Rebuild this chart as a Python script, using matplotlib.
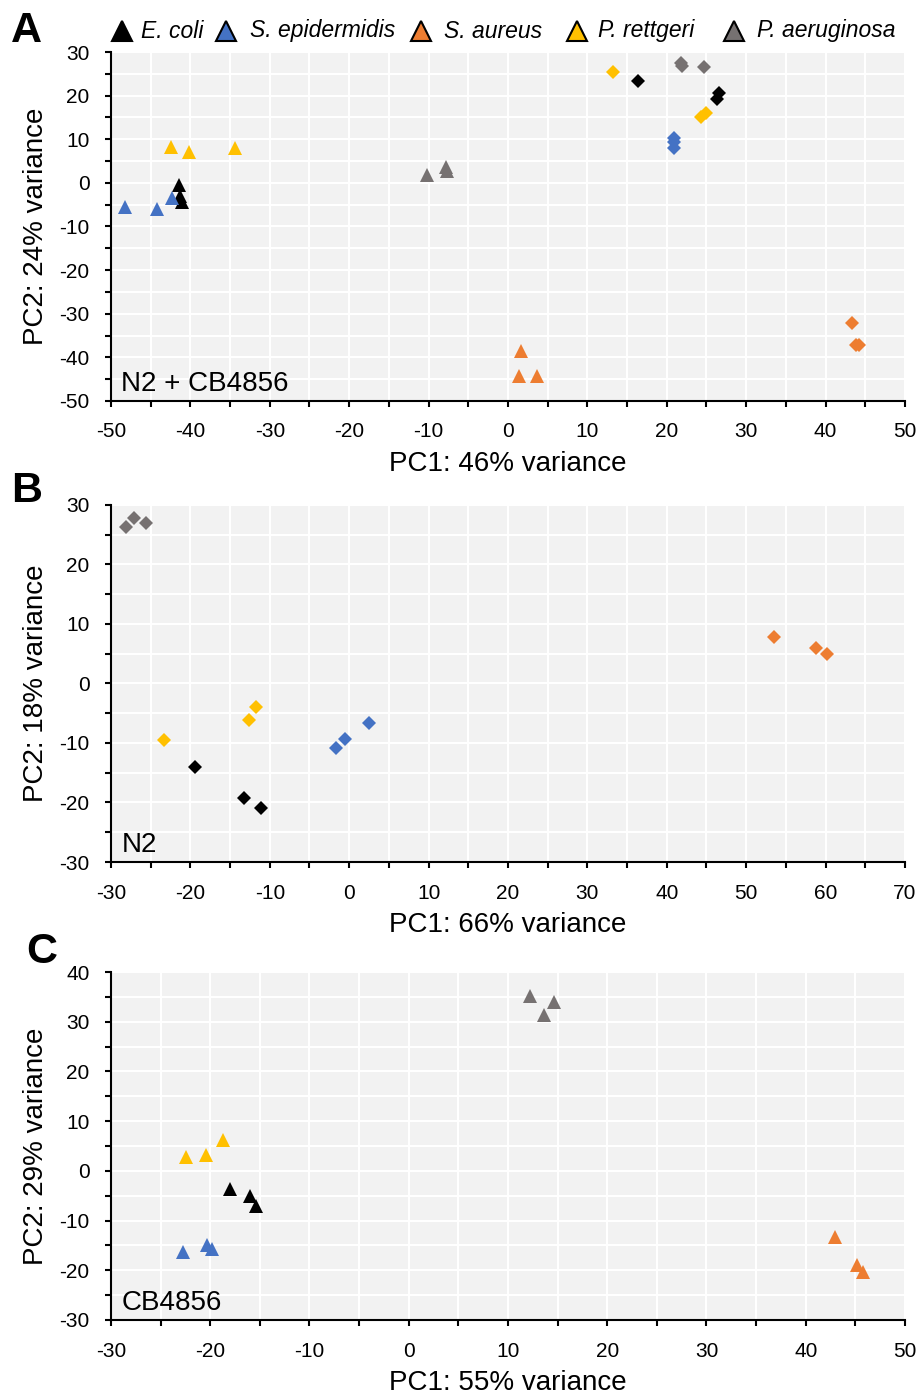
import matplotlib
matplotlib.use("Agg")
import matplotlib.pyplot as plt
from matplotlib.lines import Line2D
from matplotlib.ticker import MultipleLocator

plt.rcParams['font.family'] = ['Liberation Sans', 'DejaVu Sans']

species = ["E. coli", "S. epidermidis", "S. aureus", "P. rettgeri", "P. aeruginosa"]
colors = ["#000000", "#4472C4", "#ED7D31", "#FFC000", "#767171"]

# Panel A: N2 + CB4856 (triangles = CB4856, diamonds = N2)
a_tri_x = {
    "E. coli": [-41.4, -41.3, -41.1],
    "S. epidermidis": [-48.2, -44.2, -42.3],
    "S. aureus": [1.6, 1.4, 3.6],
    "P. rettgeri": [-42.5, -40.2, -34.4],
    "P. aeruginosa": [-10.2, -7.8, -7.7],
}
a_tri_y = {
    "E. coli": [-0.6, -3.1, -4.5],
    "S. epidermidis": [-5.5, -6.1, -3.4],
    "S. aureus": [-38.6, -44.3, -44.3],
    "P. rettgeri": [8.3, 7.1, 8.0],
    "P. aeruginosa": [1.9, 3.7, 2.8],
}
a_dia_x = {
    "E. coli": [16.4, 26.6, 26.3],
    "S. epidermidis": [20.9, 20.9, 20.9],
    "S. aureus": [43.3, 43.8, 44.2],
    "P. rettgeri": [13.2, 24.3, 25.0],
    "P. aeruginosa": [21.8, 21.9, 24.7],
}
a_dia_y = {
    "E. coli": [23.4, 20.6, 19.3],
    "S. epidermidis": [10.3, 9.4, 8.1],
    "S. aureus": [-32.2, -37.2, -37.2],
    "P. rettgeri": [25.4, 15.1, 16.1],
    "P. aeruginosa": [27.5, 26.8, 26.5],
}

# Panel B: N2 (diamonds)
b_x = {
    "E. coli": [-19.4, -13.3, -11.1],
    "S. epidermidis": [-1.7, -0.5, 2.5],
    "S. aureus": [53.5, 58.8, 60.2],
    "P. rettgeri": [-23.3, -12.6, -11.7],
    "P. aeruginosa": [-28.1, -27.1, -25.6],
}
b_y = {
    "E. coli": [-14.0, -19.2, -20.9],
    "S. epidermidis": [-10.9, -9.4, -6.6],
    "S. aureus": [7.8, 6.0, 5.0],
    "P. rettgeri": [-9.5, -6.1, -3.9],
    "P. aeruginosa": [26.3, 27.8, 27.0],
}

# Panel C: CB4856 (triangles)
c_x = {
    "E. coli": [-18.0, -16.0, -15.4],
    "S. epidermidis": [-22.7, -20.3, -19.8],
    "S. aureus": [42.9, 45.2, 45.8],
    "P. rettgeri": [-22.4, -20.4, -18.7],
    "P. aeruginosa": [12.2, 13.6, 14.6],
}
c_y = {
    "E. coli": [-3.7, -5.1, -7.1],
    "S. epidermidis": [-16.3, -14.9, -15.7],
    "S. aureus": [-13.3, -19.0, -20.3],
    "P. rettgeri": [2.8, 3.2, 6.2],
    "P. aeruginosa": [35.2, 31.3, 34.0],
}

panels = [
    dict(letter="A", name="N2 + CB4856", xlabel="PC1: 46% variance", ylabel="PC2: 24% variance",
         xlim=(-50, 50), ylim=(-50, 30), rect=[0.1205, 0.7132, 0.8621, 0.2496],
         sets=[(a_tri_x, a_tri_y, "^"), (a_dia_x, a_dia_y, "D")]),
    dict(letter="B", name="N2", xlabel="PC1: 66% variance", ylabel="PC2: 18% variance",
         xlim=(-30, 70), ylim=(-30, 30), rect=[0.1205, 0.3834, 0.8621, 0.2554],
         sets=[(b_x, b_y, "D")]),
    dict(letter="C", name="CB4856", xlabel="PC1: 55% variance", ylabel="PC2: 29% variance",
         xlim=(-30, 50), ylim=(-30, 40), rect=[0.1205, 0.0558, 0.8621, 0.2489],
         sets=[(c_x, c_y, "^")]),
]

W, H = 921, 1398
fig = plt.figure(figsize=(W / 100, H / 100), dpi=100)

letter_pos = [(0.012, 0.978), (0.012, 0.649), (0.028, 0.319)]

for p, lp in zip(panels, letter_pos):
    ax = fig.add_axes(p["rect"])
    ax.set_facecolor("#f2f2f2")
    ax.set_xlim(*p["xlim"])
    ax.set_ylim(*p["ylim"])
    ax.xaxis.set_major_locator(MultipleLocator(10))
    ax.xaxis.set_minor_locator(MultipleLocator(5))
    ax.yaxis.set_major_locator(MultipleLocator(10))
    ax.yaxis.set_minor_locator(MultipleLocator(5))
    ax.grid(True, which="both", color="white", linewidth=1.5)
    ax.set_axisbelow(True)
    for s in ["top", "right"]:
        ax.spines[s].set_visible(False)
    for s in ["left", "bottom"]:
        ax.spines[s].set_linewidth(1.5)
        ax.spines[s].set_color("black")
    ax.tick_params(which="both", direction="out", length=4.5, width=1.5, colors="black",
                   labelsize=15, pad=11)
    ax.set_xticklabels([f"{int(v)}" for v in ax.get_xticks()])
    ax.set_yticklabels([f"{int(v)}" for v in ax.get_yticks()])
    ax.set_xlabel(p["xlabel"], fontsize=20, labelpad=7)
    ax.set_ylabel(p["ylabel"], fontsize=20, labelpad=7)
    for xs, ys, mk in p["sets"]:
        for sp, col in zip(species, colors):
            ms = 9.5 if mk == "^" else 6.8
            ax.plot(xs[sp], ys[sp], linestyle="none", marker=mk, color=col,
                    markersize=ms, markeredgewidth=0, clip_on=False, zorder=3)
    ax.text(0.013, 0.012, p["name"], transform=ax.transAxes, fontsize=20,
            ha="left", va="bottom", zorder=5)
    fig.text(lp[0], lp[1], p["letter"], fontsize=31, fontweight="bold",
             ha="left", va="center")

# Legend (manually laid out in a row above panel A)
leg_marker_px = [122, 226, 421, 577, 734]
leg_text_px = [141, 250, 444, 598, 757]
leg_y = 1 - 31 / H
for sp, col, mx, tx in zip(species, colors, leg_marker_px, leg_text_px):
    fig.add_artist(Line2D([mx / W], [leg_y], transform=fig.transFigure, linestyle="none",
                          marker="^", markersize=14, markerfacecolor=col,
                          markeredgecolor="black", markeredgewidth=1.5))
    fig.text(tx / W, leg_y, sp, fontsize=16.5, fontstyle="italic", ha="left", va="center")

fig.savefig("out.png", dpi=100)
